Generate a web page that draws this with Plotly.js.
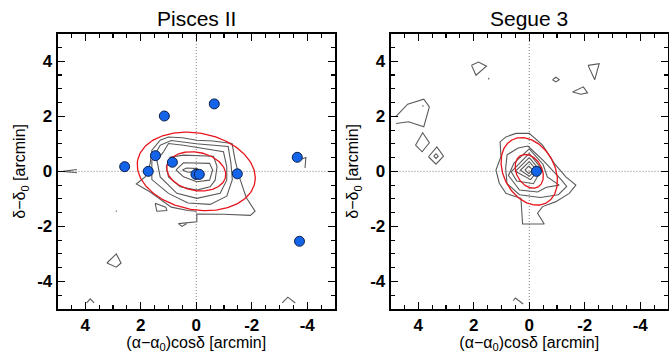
<!DOCTYPE html>
<html><head><meta charset="utf-8">
<script src="https://cdn.plot.ly/plotly-3.0.1.min.js"></script>
<style>html,body{margin:0;padding:0;background:#fff;} #plot{width:669px;height:353px;}</style>
</head><body><div id="plot"></div>
<script>
// ---------- data ----------
const panelTitles = ["Pisces II", "Segue 3"];
const tickVals = [4, 2, 0, -2, -4];
const tickText = ["4", "2", "0", "-2", "-4"];
const xTitle = "(α−α<sub>0</sub>)cosδ [arcmin]";
const yTitle = "δ−δ<sub>0</sub> [arcmin]";

// member stars (blue dots)
const pisDotX = [1.15, -0.65, 2.58, 1.73, 1.47, 0.86, 0.01, -0.11, -1.48, -3.64, -3.72];
const pisDotY = [2.01, 2.45, 0.17, 0.00, 0.57, 0.33, -0.11, -0.11, -0.09, 0.51, -2.54];
const segDotX = [-0.26];
const segDotY = [0.00];

// half-light ellipses: [cx, cy, a, b, angleDeg]; inner = 1 r_h, outer = 2 r_h
const pisEllipse = [0.0, 0.0, 2.15, 1.39, 11];
const segEllipse = [0.0, 0.0, 1.30, 0.92, 62];
const ellipseScales = [1.0, 0.5];

// density contours (x, y pairs), Pisces II
const pisC1 = [[0.5,0.05],[0.35,0.12],[-0.05,0.1],[-0.12,0.0],[0.3,-0.03],[0.5,0.05]];
const pisC2 = [[0.73,0.05],[0.46,0.31],[-0.48,0.29],[-0.59,0.05],[-0.48,-0.32],[-0.02,-0.38],[0.46,-0.2],[0.73,0.05]];
const pisC3 = [[1.08,0.17],[0.94,0.51],[0.46,0.59],[-0.62,0.55],[-0.75,0.17],[-0.68,-0.32],[-0.5,-0.56],[-0.02,-0.68],[0.58,-0.56],[1.0,-0.2],[1.08,0.17]];
const pisC4 = [[1.18,0.71],[1.0,1.01],[0.46,0.95],[-0.98,0.71],[-1.1,0.17],[-1.1,-0.32],[-0.86,-0.8],[-0.02,-0.98],[0.7,-0.8],[1.3,-0.2],[1.42,0.41],[1.18,0.71]];
const pisC5 = [[1.3,0.95],[0.9,1.12],[0.0,1.0],[-1.15,0.9],[-1.25,0.3],[-1.3,-0.3],[-1.1,-0.9],[-0.5,-1.2],[0.3,-1.15],[1.0,-0.8],[1.6,-0.3],[1.6,0.4],[1.3,0.95]];
const pisC6 = [[0.35,-1.9],[0.52,-2.0],[0.64,-1.9],[0.3,-1.85],[-0.02,-1.83],[-0.02,-1.55],[-1.0,-1.56],[-1.95,-1.6],[-2.12,-1.45],[-1.8,-0.95],[-1.59,-0.32],[-1.45,0.2],[-1.4,0.41],[-1.29,1.01],[-0.6,1.1],[-0.02,1.13],[0.5,1.22],[1.0,1.25],[1.3,1.13],[1.6,0.77],[1.66,0.29],[1.84,-0.2],[2.16,-0.46],[1.66,-0.75],[1.3,-1.0],[0.9,-1.3],[0.3,-1.42],[-0.02,-1.45]];
const pisTri = [[1.48,-1.16],[1.1,-1.3],[1.06,-1.42],[1.42,-1.45],[1.48,-1.16]];
const pisArrow = [[4.3,0.07],[4.8,0.0],[4.3,-0.05]];
const pisHook = [[-3.72,0.42],[-3.95,0.5],[-3.92,0.12]];
const pisQuad = [[3.22,-3.33],[2.88,-3.0],[2.71,-3.33],[2.88,-3.48],[3.22,-3.33]];
const pisCaret1 = [[3.95,-4.78],[3.82,-4.63],[3.68,-4.78]];
const pisCaret2 = [[-3.1,-4.78],[-3.3,-4.57],[-3.57,-4.78]];
const pisSpeck = [[2.88,-1.42],[2.88,-1.47]];

// density contours, Segue 3
const segC1 = [[0.48,1.38],[0.0,1.38],[-0.48,0.95],[-0.9,0.29],[-1.32,-0.2],[-1.68,-0.5],[-1.44,-0.8],[-0.96,-1.1],[-0.48,-1.28],[-0.3,-1.52],[-0.54,-1.91],[0.24,-1.91],[0.3,-0.98],[0.84,-0.8],[1.08,-0.43],[1.2,0.05],[1.02,0.53],[1.05,1.07],[0.84,1.25],[0.48,1.38]];
const segC2 = [[0.05,0.92],[-0.5,0.4],[-1.15,-0.3],[-1.35,-0.55],[-1.05,-0.85],[-0.4,-0.95],[0.35,-0.85],[0.8,-0.45],[0.85,0.1],[0.8,0.6],[0.4,0.85],[0.05,0.92]];
const segC3 = [[0.0,0.82],[-0.5,0.25],[-0.65,-0.2],[-1.08,-0.5],[-0.62,-0.58],[-0.3,-0.75],[0.35,-0.68],[0.75,-0.15],[0.55,0.3],[0.0,0.82]];
const segC4 = [[0.0,0.65],[-0.45,0.08],[-0.15,-0.45],[0.45,-0.35],[0.65,-0.02],[0.0,0.65]];
const segC5 = [[0.0,0.5],[-0.35,0.08],[-0.05,-0.3],[0.5,0.0],[0.0,0.5]];
const segC6 = [[0.0,0.35],[-0.25,0.06],[0.0,-0.18],[0.32,0.04],[0.0,0.35]];
const segC7 = [[0.02,0.2],[-0.12,0.05],[0.02,-0.08],[0.15,0.05],[0.02,0.2]];
const segQ1 = [[2.08,3.85],[1.83,3.97],[1.54,3.82],[1.92,3.49],[2.08,3.85]];
const segSpeck1 = [[1.46,3.4],[1.46,3.34]];
const segD1 = [[-0.84,3.33],[-0.96,3.42],[-1.08,3.33],[-0.96,3.25],[-0.84,3.33]];
const segT1 = [[-2.12,3.85],[-2.52,3.91],[-2.36,3.33],[-2.12,3.85]];
const segT2 = [[-1.56,2.88],[-1.95,3.07],[-2.1,2.85],[-1.86,2.8],[-1.56,2.88]];
const segL = [[4.8,2.0],[4.38,2.44],[3.8,2.62],[3.6,2.34],[3.8,1.62],[4.35,1.8],[4.8,1.74]];
const segLspeck = [[3.84,2.4],[3.82,2.35]];
const segD2 = [[4.1,0.95],[3.84,1.4],[3.6,1.04],[3.86,0.71],[4.1,0.95]];
const segD3 = [[3.63,0.53],[3.33,0.89],[3.09,0.55],[3.36,0.26],[3.63,0.53]];
const segD3in = [[3.44,0.55],[3.36,0.64],[3.28,0.55],[3.36,0.47],[3.44,0.55]];
const segCaret = [[0.58,-4.7],[0.5,-4.6],[0.22,-4.82]];

const pisContours = [pisC1,pisC2,pisC3,pisC4,pisC5,pisC6,pisTri,pisArrow,pisHook,pisQuad,pisCaret1,pisCaret2,pisSpeck];
const segContours = [segC1,segC2,segC3,segC4,segC5,segC6,segC7,segQ1,segSpeck1,segD1,segT1,segT2,segL,segLspeck,segD2,segD3,segD3in,segCaret];

// ---------- build ----------
const FONT = "Liberation Sans, Arial, Helvetica, sans-serif";
const traces = [];
function addContours(list, xa, ya) {
  list.forEach(c => traces.push({
    type: "scatter", mode: "lines", x: c.map(p => p[0]), y: c.map(p => p[1]),
    xaxis: xa, yaxis: ya, line: {color: "#5a5a5a", width: 1.1}, hoverinfo: "skip", showlegend: false
  }));
}
function addEllipses(par, xa, ya) {
  const [cx, cy, a, b, ang] = par;
  const th = ang * Math.PI / 180;
  ellipseScales.forEach(s => {
    const xs = [], ys = [];
    for (let i = 0; i <= 180; i++) {
      const t = 2 * Math.PI * i / 180;
      const u = s * a * Math.cos(t), v = s * b * Math.sin(t);
      xs.push(cx + u * Math.cos(th) - v * Math.sin(th));
      ys.push(cy + u * Math.sin(th) + v * Math.cos(th));
    }
    traces.push({type: "scatter", mode: "lines", x: xs, y: ys, xaxis: xa, yaxis: ya,
      line: {color: "#e8141c", width: 1.3}, hoverinfo: "skip", showlegend: false});
  });
}
function addDots(xs, ys, xa, ya) {
  traces.push({type: "scatter", mode: "markers", x: xs, y: ys, xaxis: xa, yaxis: ya,
    marker: {size: 10, color: "#1464ea", line: {color: "#0b1f4a", width: 1}},
    hoverinfo: "skip", showlegend: false});
}
addContours(pisContours, "x", "y");
addEllipses(pisEllipse, "x", "y");
addDots(pisDotX, pisDotY, "x", "y");
addContours(segContours, "x2", "y2");
addEllipses(segEllipse, "x2", "y2");
addDots(segDotX, segDotY, "x2", "y2");

const W = 669, H = 353;
const yDom = [44 / H, 319.3 / H];
const xDom1 = [57.5 / W, 335 / W];
const xDom2 = [390.5 / W, 668 / W];

function axisBase() {
  return {
    tickmode: "array", tickvals: tickVals, ticktext: tickText,
    ticks: "inside", ticklen: 7, tickwidth: 1.4, tickcolor: "#000",
    minor: {dtick: 0.5, tick0: 0, ticks: "inside", ticklen: 4, tickwidth: 1.1, tickcolor: "#000"},
    showline: true, linecolor: "#000", linewidth: 1.8, mirror: "ticks",
    showgrid: false, zeroline: false,
    tickfont: {family: FONT, size: 17, color: "#000", weight: "bold"}
  };
}
function xAxis(dom, anchor) {
  return Object.assign(axisBase(), {
    domain: dom, anchor: anchor, range: [5, -5],
    title: {text: xTitle, font: {family: FONT, size: 16, color: "#000"}, standoff: 0}
  });
}
function yAxis(anchor) {
  return Object.assign(axisBase(), {
    domain: yDom, anchor: anchor, range: [-5, 5],
    title: {text: yTitle, font: {family: FONT, size: 16, color: "#000"}, standoff: 7}
  });
}
function crossLines(xr, yr) {
  const ln = {color: "#808080", width: 1, dash: "1px,2px"};
  return [
    {type: "line", xref: xr, yref: yr + " domain", x0: 0, x1: 0, y0: 0, y1: 1, line: ln, layer: "below"},
    {type: "line", xref: xr + " domain", yref: yr, x0: 0, x1: 1, y0: 0, y1: 0, line: ln, layer: "below"}
  ];
}

const layout = {
  width: W, height: H, margin: {l: 0, r: 0, t: 0, b: 0},
  paper_bgcolor: "#fff", plot_bgcolor: "#fff", showlegend: false,
  font: {family: FONT, color: "#000"},
  xaxis: xAxis(xDom1, "y"), yaxis: yAxis("x"),
  xaxis2: xAxis(xDom2, "y2"), yaxis2: yAxis("x2"),
  shapes: crossLines("x", "y").concat(crossLines("x2", "y2")),
  annotations: [
    {text: panelTitles[0], xref: "paper", yref: "paper", x: (xDom1[0] + xDom1[1]) / 2, y: (H - 19) / H,
     xanchor: "center", yanchor: "middle", showarrow: false, font: {family: FONT, size: 21, color: "#000"}},
    {text: panelTitles[1], xref: "paper", yref: "paper", x: (xDom2[0] + xDom2[1]) / 2, y: (H - 19) / H,
     xanchor: "center", yanchor: "middle", showarrow: false, font: {family: FONT, size: 21, color: "#000"}}
  ]
};
Plotly.newPlot("plot", traces, layout, {staticPlot: true, displayModeBar: false});
</script>
</body></html>
